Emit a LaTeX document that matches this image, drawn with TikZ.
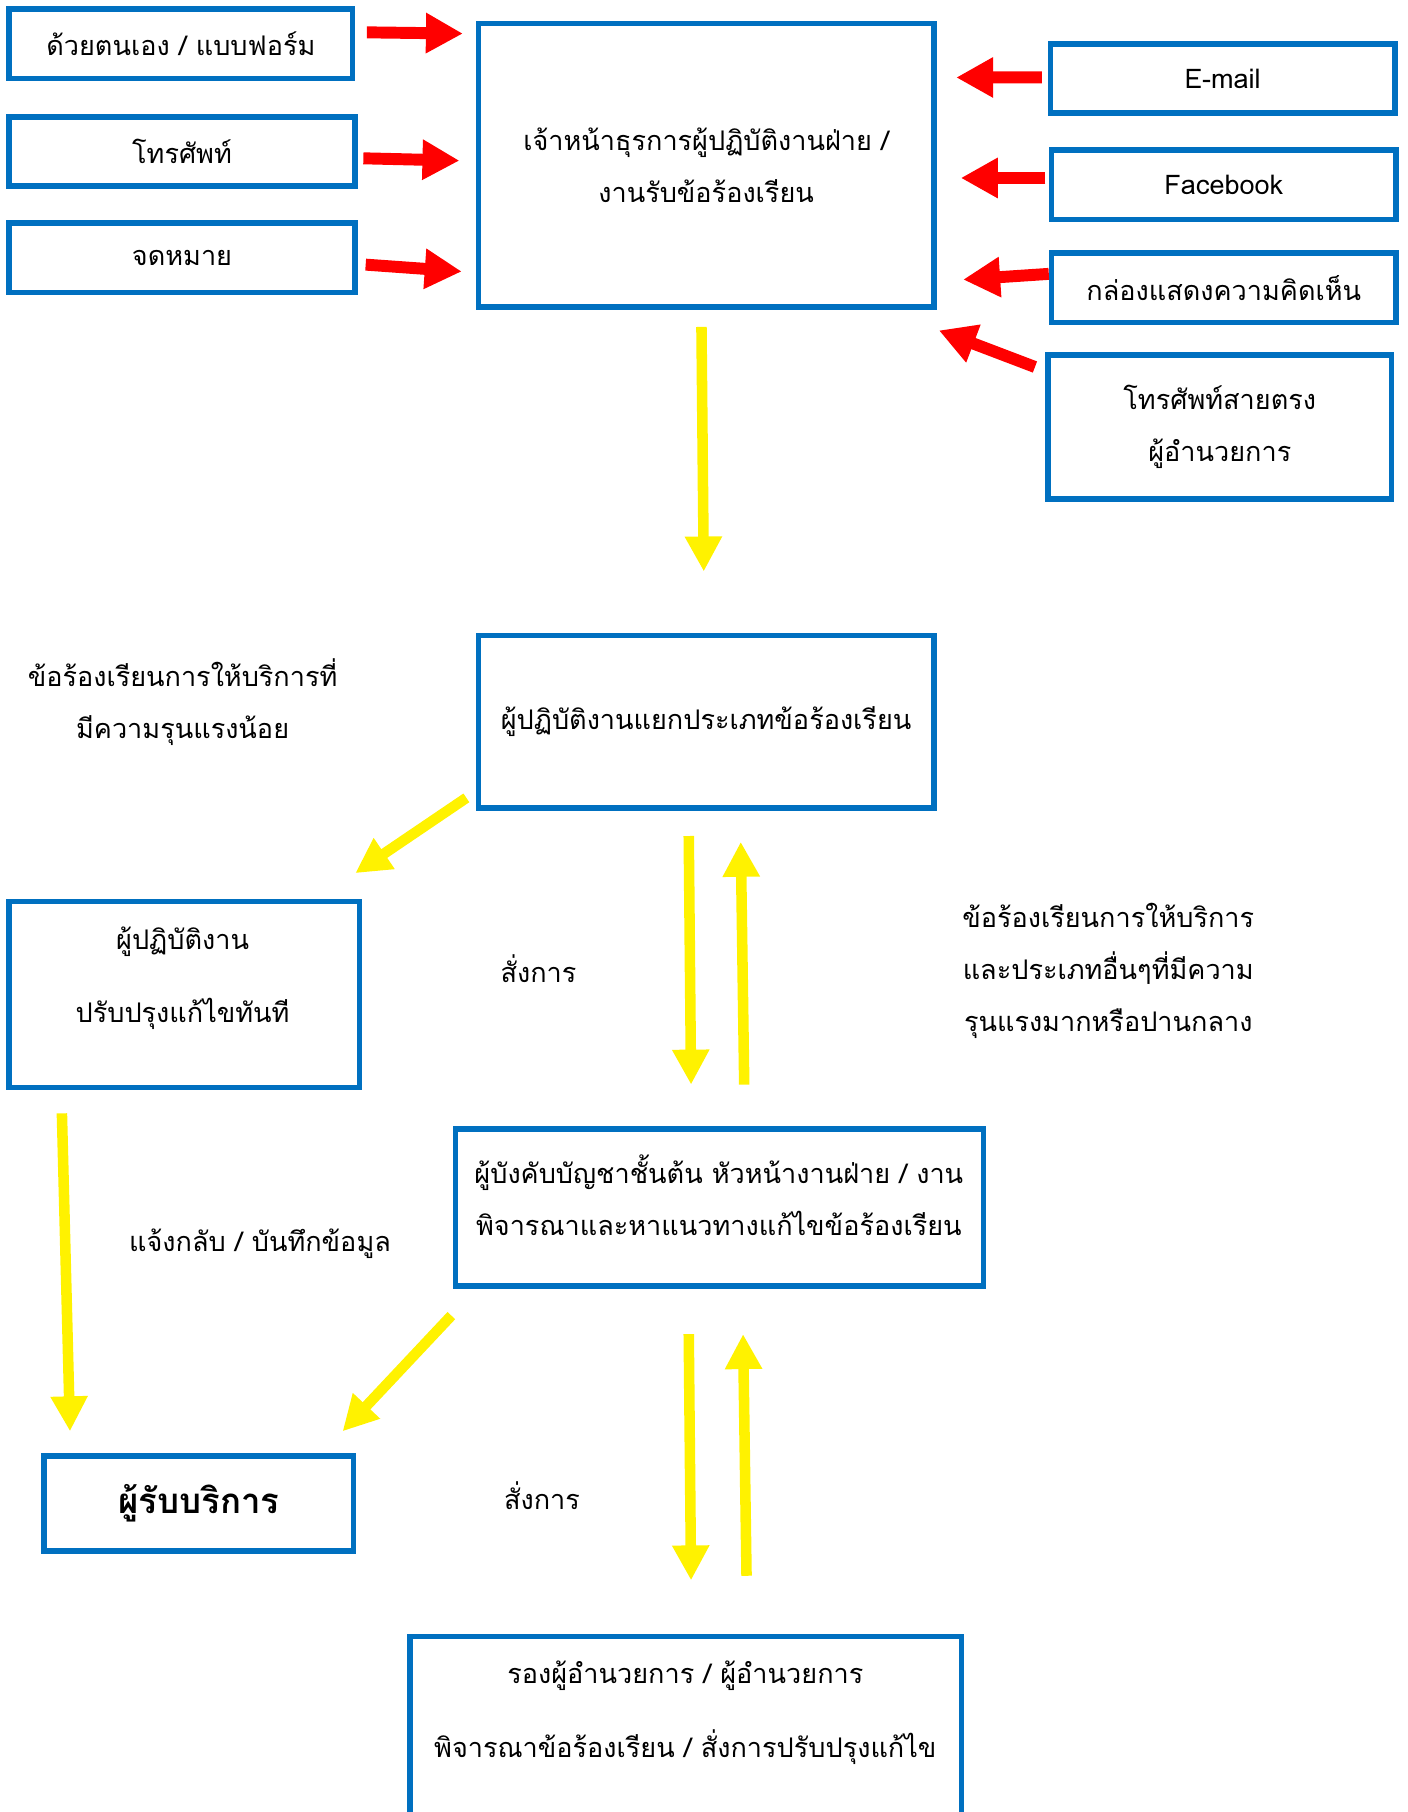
\documentclass[tikz,border=0pt]{standalone}
\usepackage{fontspec}
\setmainfont[Script=Thai]{Loma}
\usetikzlibrary{arrows.meta,calc}
\definecolor{boxblue}{RGB}{0,112,192}
\newcommand\px{0.1156mm}
\begin{document}
\begin{tikzpicture}[x=0.1156mm, y=-0.1156mm,
    box/.style={draw=boxblue, line width=1.6pt, inner sep=0pt, align=center,
      font=\fontsize{7.7}{14.8}\selectfont},
    txt/.style={align=center, font=\fontsize{7.7}{14.8}\selectfont},
    redarrow/.style={draw=red, line width=3.4pt, -{Triangle[length=3.7mm,width=3.8mm]}},
    yarrow/.style={draw=yellow, line width=3pt, -{Triangle[length=3.5mm,width=3.5mm]}}]
  \clip (0,0) rectangle (1218,1568);
  \draw
    (611,143) node[box, minimum width=394*\px, minimum height=245*\px] (0)
      {เจ้าหน้าธุรการผู้ปฏิบัติงานฝ่าย /\\งานรับข้อร้องเรียน}
    (156.5,38) node[box, minimum width=297*\px, minimum height=60*\px] (1) {ด้วยตนเอง / แบบฟอร์ม}
    (157.5,131) node[box, minimum width=299*\px, minimum height=60*\px] (2) {โทรศัพท์}
    (157.5,223) node[box, minimum width=299*\px, minimum height=60*\px] (3) {จดหมาย}
    (1058,68) node[box, minimum width=298*\px, minimum height=60*\px] (4) {E-mail}
    (1059,160) node[box, minimum width=298*\px, minimum height=60*\px] (5) {Facebook}
    (1059,249) node[box, minimum width=298*\px, minimum height=60*\px] (6) {กล่องแสดงความคิดเห็น}
    (1055.5,369.5) node[box, minimum width=297*\px, minimum height=125*\px] (7)
      {โทรศัพท์สายตรง\\ผู้อำนวยการ}
    (611,624.5) node[box, minimum width=394*\px, minimum height=149*\px] (8)
      {ผู้ปฏิบัติงานแยกประเภทข้อร้องเรียน}
    (159.5,860.5) node[box, minimum width=303*\px, minimum height=161*\px] (9) {}
    (622.5,1045) node[box, minimum width=457*\px, minimum height=136*\px] (10) {}
    (172,1301) node[box, minimum width=268*\px, minimum height=82*\px,
      font=\fontsize{9.9}{14}\selectfont\bfseries] (11) {ผู้รับบริการ}
    (593.5,1500) node[box, minimum width=477*\px, minimum height=168*\px] (12) {};
  % labels
  \draw
    (158,846.5) node[txt, font=\fontsize{7.7}{20.8}\selectfont] (t9) {ผู้ปฏิบัติงาน\\ปรับปรุงแก้ไขทันที}
    (622,1034) node[txt] (t10)
      {ผู้บังคับบัญชาชั้นต้น หัวหน้างานฝ่าย / งาน\\พิจารณาและหาแนวทางแก้ไขข้อร้องเรียน}
    (593,1482) node[txt, font=\fontsize{7.7}{21}\selectfont] (t12)
      {รองผู้อำนวยการ / ผู้อำนวยการ\\พิจารณาข้อร้องเรียน / สั่งการปรับปรุงแก้ไข}
    (158,607.5) node[txt] (l1) {ข้อร้องเรียนการให้บริการที่\\มีความรุนแรงน้อย}
    (466,838) node[txt] (l2) {สั่งการ}
    (959,840) node[txt] (l3) {ข้อร้องเรียนการให้บริการ\\และประเภทอื่นๆที่มีความ\\รุนแรงมากหรือปานกลาง}
    (225,1076) node[txt] (l4) {แจ้งกลับ / บันทึกข้อมูล}
    (469,1294) node[txt] (l5) {สั่งการ};
  \begin{scope}[redarrow]
    \draw ($(1.east)+(10,-10)$) to ($(0.north west)+(-11,11)$);
    \draw ($(2.east)+(5,6)$) to ($(0.west)+(-14,-4)$);
    \draw ($(3.east)+(7,6)$) to ($(0.south west)+(-12,-33)$);
    \draw ($(4.west)+(-5,-1)$) to ($(0.north east)+(17,49)$);
    \draw ($(5.west)+(-3,-6)$) to ($(0.east)+(21,11)$);
    \draw ($(6.west)+(0,-12)$) to ($(0.south east)+(23,-26)$);
    \draw ($(7.north west)+(-9,13)$) to ($(0.south east)+(2,18)$);
  \end{scope}
  \begin{scope}[yarrow]
    \draw ($(0.south)+(-4,15)$) to ($(8.north)+(-2,-53)$);
    \draw ($(8.south west)+(-8,-11)$) to ($(9.north east)+(-6,-22)$);
    \draw ($(8.south)+(-15,22)$) to ($(10.north)+(-24.5,-36)$);
    \draw ($(10.north)+(21.5,-36)$) to ($(8.south)+(30,27)$);
    \draw ($(9.south west)+(48,20)$) to ($(11.north west)+(25,-19)$);
    \draw ($(10.south west)+(-1,23)$) to ($(11.north east)+(-12,-19)$);
    \draw ($(10.south)+(-26.5,39)$) to ($(12.north)+(4.5,-46)$);
    \draw ($(12.north)+(52.5,-50)$) to ($(10.south)+(20.5,39)$);
  \end{scope}
\end{tikzpicture}
\end{document}
